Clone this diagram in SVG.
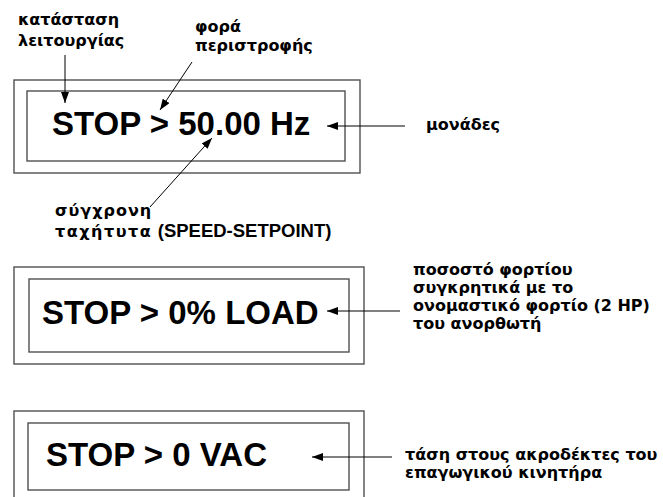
<svg xmlns="http://www.w3.org/2000/svg" width="663" height="497" viewBox="0 0 663 497">
<style>
.box{fill:none;stroke:#505050;stroke-width:1.4}
.disp{font-family:"Liberation Sans",Arial,sans-serif;font-weight:bold;font-size:33px;fill:#000}
.lbl{font-family:"DejaVu Sans","Noto Sans",sans-serif;font-weight:bold;font-size:16px;fill:#000}
.lat{font-family:"Liberation Sans",Arial,sans-serif;font-weight:bold;font-size:18.5px}
.con{stroke:#000;stroke-width:1;fill:none;marker-end:url(#ah)}
</style>
<defs>
<marker id="ah" viewBox="0 0 11 8" refX="11" refY="4" markerWidth="11" markerHeight="8" markerUnits="userSpaceOnUse" orient="auto">
<path d="M0,0 L11,4 L0,8 Z" fill="#000"/>
</marker>
</defs>
<rect width="663" height="497" fill="#fff"/>
<g id="display1">
<rect class="box" x="14" y="80" width="346" height="93"/>
<rect class="box" x="27" y="91" width="318" height="70"/>
<text class="disp" x="52" y="135">STOP &gt; 50.00 Hz</text>
</g>
<g id="display2">
<rect class="box" x="14" y="267" width="350" height="97"/>
<rect class="box" x="29" y="279" width="320" height="73"/>
<text class="disp" x="42" y="324">STOP &gt; 0% LOAD</text>
</g>
<g id="display3">
<rect class="box" x="14" y="411" width="350" height="100"/>
<rect class="box" x="28" y="423" width="321" height="67"/>
<text class="disp" x="46" y="466">STOP &gt; 0 VAC</text>
</g>
<g id="label-state">
<text class="lbl" x="18" y="25">κατάσταση</text>
<text class="lbl" x="18" y="46">λειτουργίας</text>
</g>
<g id="label-direction">
<text class="lbl" x="195" y="32">φορά</text>
<text class="lbl" x="195" y="51">περιστροφής</text>
</g>
<g id="label-speed">
<text class="lbl" x="55" y="216" letter-spacing="1">σύγχρονη</text>
<text class="lbl" x="55" y="237"><tspan letter-spacing="1.5">ταχήτυτα</tspan> <tspan class="lat">(SPEED-SETPOINT)</tspan></text>
</g>
<g id="label-units">
<text class="lbl" x="426" y="130">μονάδες</text>
</g>
<g id="label-load">
<text class="lbl" x="413" y="275">ποσοστό φορτίου</text>
<text class="lbl" x="413" y="293">συγκρητικά με το</text>
<text class="lbl" x="413" y="311">ονομαστικό φορτίο (2 HP)</text>
<text class="lbl" x="413" y="329">του ανορθωτή</text>
</g>
<g id="label-voltage">
<text class="lbl" x="405" y="460">τάση στους ακροδέκτες του</text>
<text class="lbl" x="405" y="478">επαγωγικού κινητήρα</text>
</g>
<g id="connectors">
<line class="con" x1="65" y1="55" x2="65" y2="103"/>
<line class="con" x1="192" y1="62" x2="160" y2="110"/>
<line class="con" x1="150" y1="207" x2="212" y2="138"/>
<line class="con" x1="405" y1="126" x2="327" y2="126"/>
<line class="con" x1="400" y1="311" x2="327" y2="311"/>
<line class="con" x1="392" y1="457" x2="312" y2="457"/>
</g>
</svg>
